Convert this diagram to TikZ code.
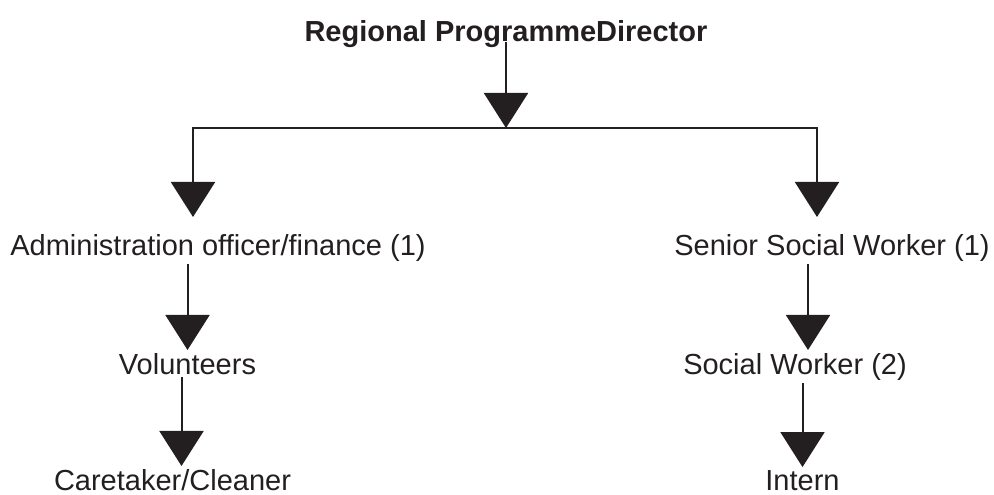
\documentclass[tikz,border=0pt]{standalone}
\usepackage{fontspec}
\setmainfont{Liberation Sans}
\usetikzlibrary{arrows.meta}
\definecolor{ink}{RGB}{35,31,32}

\begin{document}
\begin{tikzpicture}[x=1pt, y=-1pt, line width=2pt, color=ink,
    post/.style={anchor=base, inner sep=2pt, font=\fontsize{29}{34}\selectfont},
    link/.style={-{Triangle[length=35pt, width=44pt]}}]
    % --- 定义参数 ---
    \def\busY{128}     % 横线的高度
    \def\drop{14pt}    % 下行箭头与文字的间距

    \useasboundingbox (0,0) rectangle (994,495);

    % --- 职位节点 ---
    \node[post, font=\fontsize{29}{34}\selectfont\bfseries] (director) at (506,42) {Regional ProgrammeDirector};
    \node[post] (admin)  at (218,255)   {Administration officer/finance (1)};
    \node[post] (vol)    at (187.5,374) {Volunteers};
    \node[post] (care)   at (172.5,490) {Caretaker/Cleaner};
    \node[post] (senior) at (832,255)   {Senior Social Worker (1)};
    \node[post] (sw)     at (795,374)   {Social Worker (2)};
    \node[post] (intern) at (802.5,490) {Intern};

    % --- 横线的两端 ---
    \coordinate (busL) at (193,\busY);
    \coordinate (busR) at (817,\busY);

    % --- 顶部箭头和横线 ---
    \draw[link] (director.base) -- (director.base |- busL);
    \draw[link, shorten >=\drop] (director.base |- busL) -| (busL |- admin.north);
    \draw[link, shorten >=\drop] (director.base |- busR) -| (busR |- senior.north);

    % --- 左边一列 ---
    \draw[link] (admin.south -| vol) -- (vol.north);
    \draw[link] ([xshift=-6pt]vol.south) -- ([xshift=-6pt]vol.south |- care.north);

    % --- 右边一列 ---
    \draw[link] ([xshift=13pt]sw.north |- senior.south) -- ([xshift=13pt]sw.north);
    \draw[link] (sw.south -| intern) -- (intern.north);

\end{tikzpicture}
\end{document}
